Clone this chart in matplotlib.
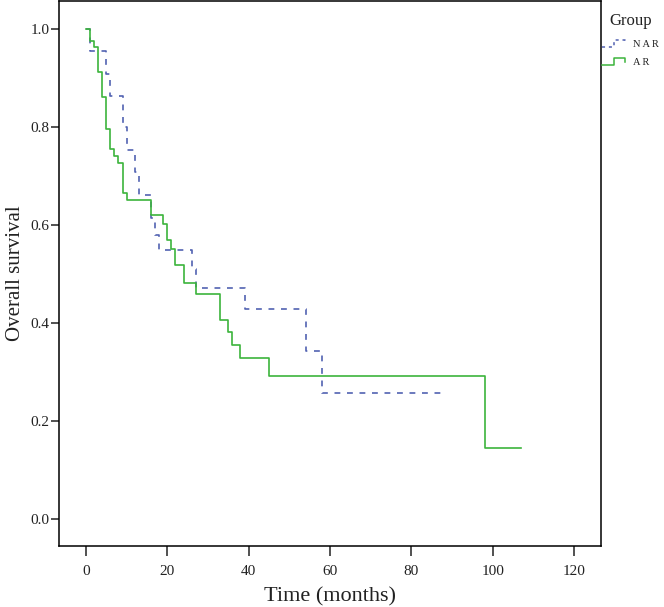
import numpy as np
import matplotlib.pyplot as plt
from matplotlib.lines import Line2D
from matplotlib.legend_handler import HandlerBase

plt.rcParams['font.family'] = ['Liberation Serif', 'DejaVu Serif']

# Kaplan-Meier step points (time in months, survival after the step)
nar_time = [0, 1, 5, 6, 9, 10, 12, 13, 16, 17, 18, 26, 27, 39, 54, 58, 88.3]
nar_surv = [1.0, 0.955, 0.909, 0.863, 0.80, 0.753, 0.708, 0.661, 0.615, 0.58,
            0.55, 0.511, 0.471, 0.428, 0.343, 0.257, 0.257]

ar_time = [0, 1, 2, 3, 4, 5, 6, 7, 8, 9, 10, 16, 19, 20, 21, 22, 24, 27,
           33, 35, 36, 38, 45, 98, 107]
ar_surv = [1.0, 0.976, 0.964, 0.913, 0.861, 0.796, 0.755, 0.741, 0.726, 0.666,
           0.651, 0.620, 0.603, 0.569, 0.552, 0.518, 0.481, 0.459, 0.407,
           0.382, 0.355, 0.328, 0.292, 0.146, 0.146]

x_ticks = [0, 20, 40, 60, 80, 100, 120]
y_ticks = [0.0, 0.2, 0.4, 0.6, 0.8, 1.0]

nar_color = '#5262b2'
ar_color = '#3cb43c'
txt_color = '#222222'


class StepHandler(HandlerBase):
    # small step-shaped legend key, like the SPSS survival legend
    def create_artists(self, legend, orig_handle, xdescent, ydescent,
                       width, height, fontsize, trans):
        fx = np.array([0, 0.45, 0.45, 0.85, 0.85])
        fy = np.array([0.1, 0.1, 0.9, 0.9, 0.5])
        ln = Line2D(fx * width - xdescent, fy * height - ydescent)
        self.update_prop(ln, orig_handle, legend)
        ln.set_transform(trans)
        return [ln]


fig = plt.figure(figsize=(6.64, 6.07), dpi=100)
ax = fig.add_axes([0.0889, 0.1005, 0.8162, 0.8975])

ax.step(nar_time, nar_surv, where='post', color=nar_color, lw=1.2,
        dashes=(3.5, 4.0))
ax.step(ar_time, ar_surv, where='post', color=ar_color, lw=1.2)

ax.set_xlim(-6.6, 126.6)
ax.set_ylim(-0.055, 1.057)
ax.set_xticks(x_ticks)
ax.set_xticklabels([str(v) for v in x_ticks])
ax.set_yticks(y_ticks)
ax.set_yticklabels(['%.1f' % v for v in y_ticks])

for s in ax.spines.values():
    s.set_linewidth(1.1)
ax.tick_params(axis='x', length=7, width=1.1, labelsize=11, pad=7, colors=txt_color)
ax.tick_params(axis='y', length=6, width=1.1, labelsize=11, pad=1, colors=txt_color)

ax.set_xlabel('Time (months)', fontsize=16, labelpad=6, color=txt_color)
ax.set_ylabel('Overall survival', fontsize=15, labelpad=4, color=txt_color)

# legend to the right of the plot area
fig.text(0.918, 0.965, 'Group', fontsize=12, va='center', ha='left', color=txt_color)
handles = [Line2D([], [], color=nar_color, lw=1.1, dashes=(2.0, 2.5)),
           Line2D([], [], color=ar_color, lw=1.1)]
fig.legend(handles, ['N A R', 'A R'], loc='upper left',
           bbox_to_anchor=(0.906, 0.935), frameon=False, fontsize=7.5,
           handlelength=2.7, handleheight=0.9, handletextpad=0.3,
           labelspacing=0.75, borderaxespad=0, borderpad=0,
           handler_map={Line2D: StepHandler()}, labelcolor=txt_color)

fig.savefig('out.png', dpi=100)
